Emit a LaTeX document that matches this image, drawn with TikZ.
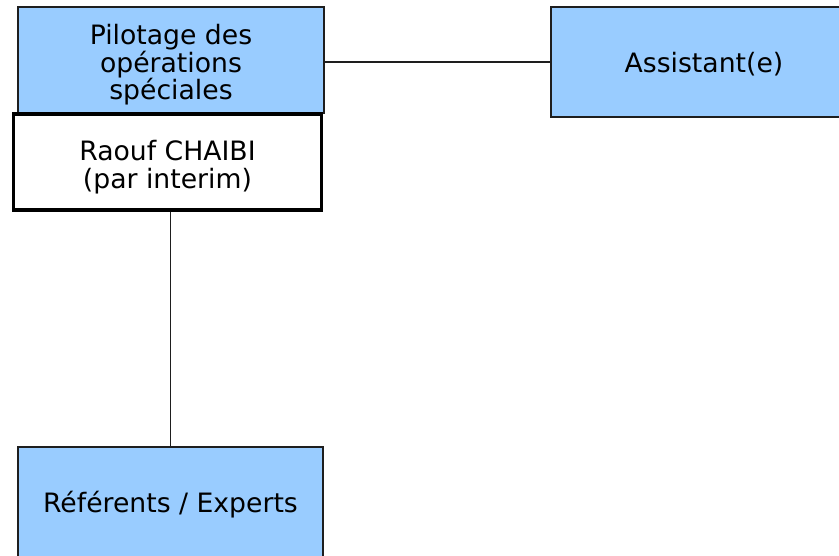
\documentclass[tikz,border=0pt]{standalone}
\usepackage{fontspec}
\setmainfont{DejaVu Sans}
\definecolor{boxBlue}{RGB}{153, 204, 255}
\definecolor{lineGray}{RGB}{30, 30, 30}
% move the text down a bit, keep the box where it is
\newcommand{\lowtext}[2]{\raisebox{-#1}[\height][\depth]{\parbox[c]{220pt}{\centering #2}}}

\begin{document}
\begin{tikzpicture}[x=0.75pt, y=-0.75pt,
    unit/.style={draw=lineGray, line width=1pt, fill=boxBlue, inner sep=0pt,
      font=\fontsize{20}{20.5}\selectfont},
    head/.style={draw=black, line width=2.4pt, fill=white, inner sep=0pt,
      font=\fontsize{20}{21}\selectfont}]
        \useasboundingbox (0,0) rectangle (839,556);
        \node[unit, minimum width=306*0.75pt, minimum height=106*0.75pt] (pilot) at (171,60) {\lowtext{3.5pt}{Pilotage des\\opérations\\spéciales}};
        \node[head, minimum width=308*0.75pt, minimum height=96*0.75pt] (interim) at (167.5,162) {\lowtext{4pt}{Raouf CHAIBI\\(par interim)}};
        \node[unit, minimum width=306*0.75pt, minimum height=110*0.75pt] (assist) at (704,62) {\lowtext{1.5pt}{Assistant(e)}};
        \node[unit, minimum width=305*0.75pt, minimum height=112*0.75pt] (experts) at (170.5,503) {\lowtext{1.5pt}{Référents / Experts}};
        \draw[lineGray, line width=1pt] (assist.west -| pilot.east) -- (assist.west);
        \draw[lineGray, line width=1pt] (experts.north |- interim.south) -- (experts.north);
      \end{tikzpicture}
\end{document}
